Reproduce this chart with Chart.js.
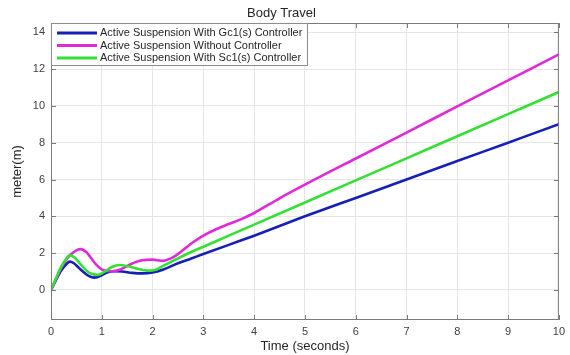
<!DOCTYPE html>
<html>
<head>
<meta charset="utf-8">
<script src="https://cdn.jsdelivr.net/npm/chart.js@4/dist/chart.umd.min.js"></script>
<style>
  body { margin: 0; background: #fff; }
  #bodyTravel { display: block; }
</style>
</head>
<body>
<canvas id="bodyTravel" width="570" height="355"></canvas>
<script>
// time samples (s) and body travel (m) for each controller
var gcTime = [0, 0.1, 0.2, 0.3, 0.37, 0.45, 0.55, 0.65, 0.75, 0.86, 1.0, 1.1, 1.25, 1.4, 1.6, 1.8, 2.0, 2.2, 2.5, 2.75, 3.0, 3.5, 4, 5, 6, 7, 8, 9, 10];
var gcTravel = [0, 0.55, 1.05, 1.4, 1.54, 1.45, 1.2, 0.95, 0.75, 0.67, 0.8, 0.95, 1.02, 1.0, 0.93, 0.9, 0.95, 1.1, 1.45, 1.7, 1.95, 2.45, 2.95, 4.0, 5.0, 6.0, 7.0, 8.0, 9.0];

var noCtrlTime = [0, 0.1, 0.2, 0.3, 0.4, 0.5, 0.58, 0.7, 0.8, 0.9, 1.0, 1.1, 1.2, 1.35, 1.5, 1.65, 1.8, 2.0, 2.2, 2.35, 2.5, 2.75, 3.0, 3.25, 3.5, 3.75, 4.0, 4.5, 5.0, 6.0, 7.0, 8.0, 9.0, 10.0];
var noCtrlTravel = [0, 0.6, 1.2, 1.65, 1.95, 2.15, 2.22, 2.05, 1.7, 1.35, 1.12, 1.03, 1.02, 1.1, 1.3, 1.5, 1.62, 1.65, 1.58, 1.7, 1.95, 2.5, 2.95, 3.3, 3.58, 3.85, 4.18, 4.98, 5.72, 7.14, 8.55, 9.97, 11.38, 12.8];

var scTime = [0, 0.1, 0.2, 0.3, 0.36, 0.45, 0.55, 0.7, 0.8, 0.92, 1.05, 1.2, 1.35, 1.5, 1.7, 1.9, 2.05, 2.2, 2.5, 2.75, 3.0, 3.5, 4, 5, 6, 7, 8, 9, 10];
var scTravel = [0, 0.65, 1.25, 1.7, 1.88, 1.8, 1.5, 1.05, 0.88, 0.82, 0.98, 1.25, 1.36, 1.3, 1.15, 1.05, 1.08, 1.3, 1.72, 2.05, 2.35, 2.95, 3.55, 4.75, 5.95, 7.15, 8.35, 9.55, 10.75];

var seriesLabels = [
    "Active Suspension With Gc1(s) Controller",
    "Active Suspension Without Controller",
    "Active Suspension With Sc1(s) Controller"
];
var xTicks = [0, 1, 2, 3, 4, 5, 6, 7, 8, 9, 10];
var yTicks = [0, 2, 4, 6, 8, 10, 12, 14];

function toPoints(xs, ys) {
    return xs.map(function(x, i) { return { x: x, y: ys[i] }; });
}

var colors = ["#1620b4", "#e02ad8", "#34e034"];
var font = "'Liberation Sans', Arial, Helvetica, sans-serif";

// box outline, inward tick marks and the legend inside the plot
var matlabAxes = {
    id: "matlabAxes",
    afterDraw: function(chart) {
        var ctx = chart.ctx;
        var a = chart.chartArea;
        var xs = chart.scales.x, ys = chart.scales.y;
        ctx.save();
        ctx.strokeStyle = "#7a7a7a";
        ctx.lineWidth = 1;
        ctx.strokeRect(a.left + 0.5, a.top + 0.5, a.right - a.left - 1, a.bottom - a.top - 1);
        ctx.beginPath();
        xTicks.forEach(function(t) {
            var px = Math.round(xs.getPixelForValue(t)) + 0.5;
            ctx.moveTo(px, a.bottom); ctx.lineTo(px, a.bottom - 5);
            ctx.moveTo(px, a.top); ctx.lineTo(px, a.top + 5);
        });
        yTicks.forEach(function(t) {
            var py = Math.round(ys.getPixelForValue(t)) + 0.5;
            ctx.moveTo(a.left, py); ctx.lineTo(a.left + 5, py);
            ctx.moveTo(a.right, py); ctx.lineTo(a.right - 5, py);
        });
        ctx.stroke();

        // legend
        var lx = a.left, ly = a.top, lw = 257, lh = 43;
        ctx.fillStyle = "#fff";
        ctx.fillRect(lx, ly, lw, lh);
        ctx.strokeStyle = "#8c8c8c";
        ctx.strokeRect(lx + 0.5, ly + 0.5, lw - 1, lh - 1);
        ctx.font = "11px " + font;
        ctx.textBaseline = "middle";
        chart.data.datasets.forEach(function(ds, i) {
            var rowY = ly + 10 + i * 12.5;
            ctx.strokeStyle = ds.borderColor;
            ctx.lineWidth = 3;
            ctx.beginPath();
            ctx.moveTo(lx + 6, rowY); ctx.lineTo(lx + 46, rowY);
            ctx.stroke();
            ctx.fillStyle = "#262626";
            ctx.fillText(ds.label, lx + 49, rowY);
        });
        ctx.restore();
    }
};

var ctx = document.getElementById("bodyTravel");

var chart = new Chart(ctx, {
    type: "line",
    data: {
        datasets: [
            {
                label: seriesLabels[0],
                data: toPoints(gcTime, gcTravel),
                borderColor: colors[0],
                order: 2
            },
            {
                label: seriesLabels[1],
                data: toPoints(noCtrlTime, noCtrlTravel),
                borderColor: colors[1],
                order: 1
            },
            {
                label: seriesLabels[2],
                data: toPoints(scTime, scTravel),
                borderColor: colors[2],
                order: 0
            }
        ]
    },
    options: {
        responsive: false,
        animation: false,
        layout: { padding: { top: 0, right: 7, bottom: 0, left: 0 } },
        elements: {
            line: { borderWidth: 2.6, fill: false, cubicInterpolationMode: "monotone" },
            point: { radius: 0 }
        },
        plugins: {
            legend: { display: false },
            tooltip: { enabled: false },
            title: {
                display: true,
                text: "Body Travel",
                color: "#262626",
                font: { family: font, size: 13, weight: "normal", lineHeight: 1.2 },
                padding: { top: 6, bottom: 1.4 }
            }
        },
        scales: {
            x: {
                type: "linear",
                min: 0,
                max: 10,
                afterBuildTicks: function(scale) {
                    scale.ticks = xTicks.map(function(v) { return { value: v }; });
                },
                afterFit: function(scale) { scale.height = 35; },
                grid: { color: "#e6e6e6", drawTicks: false },
                border: { display: false },
                ticks: {
                    color: "#404040",
                    padding: 5,
                    maxRotation: 0,
                    font: { family: font, size: 11 }
                },
                title: {
                    display: true,
                    text: "Time (seconds)",
                    color: "#262626",
                    font: { family: font, size: 13, lineHeight: 1.2 },
                    padding: { top: 0, bottom: 1.2 }
                }
            },
            y: {
                min: -1.63,
                max: 14.5,
                afterBuildTicks: function(scale) {
                    scale.ticks = yTicks.map(function(v) { return { value: v }; });
                },
                afterFit: function(scale) { scale.width = 51; },
                grid: { color: "#e6e6e6", drawTicks: false },
                border: { display: false },
                ticks: {
                    color: "#404040",
                    padding: 6,
                    font: { family: font, size: 11 }
                },
                title: {
                    display: true,
                    text: "meter(m)",
                    color: "#262626",
                    font: { family: font, size: 13, lineHeight: 1.2 },
                    padding: { top: 10, bottom: 0 }
                }
            }
        }
    },
    plugins: [matlabAxes]
});
</script>
</body>
</html>
